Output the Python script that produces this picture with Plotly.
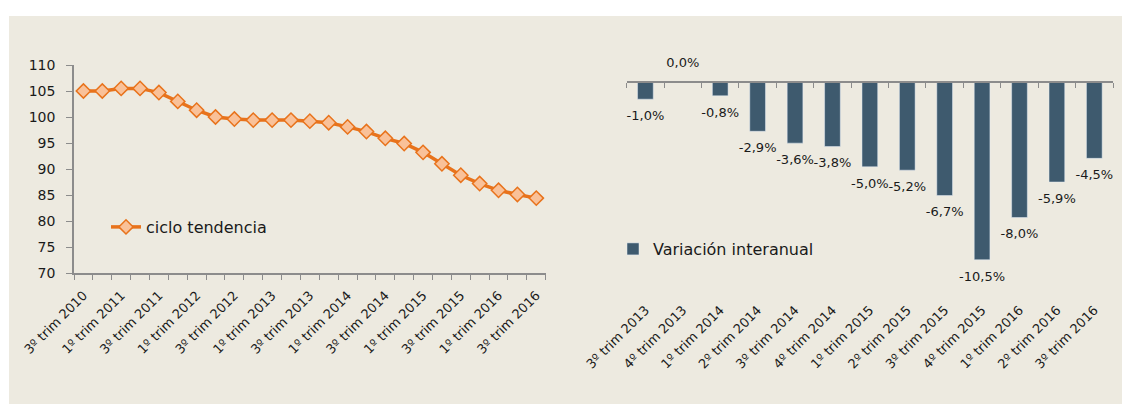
import plotly.graph_objects as go

# ---------------- data ----------------
trend_quarters = [
    "3º trim 2010", "4º trim 2010", "1º trim 2011", "2º trim 2011", "3º trim 2011",
    "4º trim 2011", "1º trim 2012", "2º trim 2012", "3º trim 2012", "4º trim 2012",
    "1º trim 2013", "2º trim 2013", "3º trim 2013", "4º trim 2013", "1º trim 2014",
    "2º trim 2014", "3º trim 2014", "4º trim 2014", "1º trim 2015", "2º trim 2015",
    "3º trim 2015", "4º trim 2015", "1º trim 2016", "2º trim 2016", "3º trim 2016",
]
trend_values = [105.0, 105.0, 105.5, 105.5, 104.7, 103.0, 101.3, 100.0, 99.6, 99.4,
                99.4, 99.4, 99.2, 98.9, 98.1, 97.2, 95.9, 94.9, 93.2, 91.0,
                88.8, 87.2, 85.9, 85.1, 84.4]
trend_name = "ciclo tendencia"

var_quarters = [
    "3º trim 2013", "4º trim 2013", "1º trim 2014", "2º trim 2014", "3º trim 2014",
    "4º trim 2014", "1º trim 2015", "2º trim 2015", "3º trim 2015", "4º trim 2015",
    "1º trim 2016", "2º trim 2016", "3º trim 2016",
]
var_values = [-1.0, 0.05, -0.8, -2.9, -3.6, -3.8, -5.0, -5.2, -6.7, -10.5, -8.0, -5.9, -4.5]
var_labels = ["-1,0%", "0,0%", "-0,8%", "-2,9%", "-3,6%", "-3,8%", "-5,0%", "-5,2%",
              "-6,7%", "-10,5%", "-8,0%", "-5,9%", "-4,5%"]
var_name = "Variación interanual"

left_yticks = [70, 75, 80, 85, 90, 95, 100, 105, 110]

# ---------------- layout helpers ----------------
W, H = 1130, 404
OFF = 8  # page body margin offset
def px_x(p): return (p - OFF) / W
def px_y(p): return 1 - (p - OFF) / H

FONT = "DejaVu Sans"
TXT = "#1a1a1a"
AX = "#8c8c8c"
ORANGE = "#e8731c"
MFILL = "#f9c199"
BAR = "#3e5a6e"
BG = "#edeae0"

trend_idx = list(range(len(trend_quarters)))
var_idx = list(range(len(var_quarters)))

fig = go.Figure()

fig.add_trace(go.Scatter(
    x=trend_idx, y=trend_values, name=trend_name, mode="lines+markers",
    text=trend_quarters, hovertemplate="%{text}: %{y}<extra></extra>",
    line=dict(color=ORANGE, width=3.5),
    marker=dict(symbol="diamond", size=11, color=MFILL, line=dict(color=ORANGE, width=1.5)),
    xaxis="x", yaxis="y", legend="legend",
))

fig.add_trace(go.Bar(
    x=var_idx, y=var_values, name=var_name, marker_color=BAR, width=0.42,
    text=var_quarters, hovertemplate="%{text}: %{y}%<extra></extra>", textposition="none",
    xaxis="x2", yaxis="y2", legend="legend2",
))

# data labels below (or above) each bar end
fig.add_trace(go.Scatter(
    x=var_idx, y=var_values, mode="markers+text", text=var_labels,
    textposition=["bottom center" if v < 0 else "top center" for v in var_values],
    textfont=dict(size=13, color=TXT, family=FONT),
    marker=dict(size=16, opacity=0), cliponaxis=False,
    showlegend=False, hoverinfo="skip", xaxis="x2", yaxis="y2",
))

# invisible helper trace so the zero-line axis is drawn
fig.add_trace(go.Scatter(
    x=var_idx, y=var_values, mode="markers", marker=dict(opacity=0),
    showlegend=False, hoverinfo="skip", xaxis="x3", yaxis="y2",
))

r_top, r_bot, r_zero = 65, 297, 82.3
ppu = 16.9
r_range = [-(r_bot - r_zero) / ppu, (r_zero - r_top) / ppu]

fig.update_layout(
    width=W, height=H,
    margin=dict(l=0, r=0, t=0, b=0, pad=0, autoexpand=False),
    paper_bgcolor="white", plot_bgcolor="rgba(0,0,0,0)",
    font=dict(family=FONT, size=13, color=TXT),
    showlegend=True,
    shapes=[dict(type="rect", xref="paper", yref="paper", layer="below",
                 x0=px_x(9), x1=1, y0=0, y1=px_y(16),
                 fillcolor=BG, line=dict(width=0))],
    xaxis=dict(
        domain=[px_x(74), px_x(545.7)], anchor="y", automargin=False,
        range=[-0.5, len(trend_quarters) - 0.5],
        tickmode="array", tickvals=trend_idx[::2], ticktext=trend_quarters[::2],
        tickangle=-45, ticks="", showgrid=False, zeroline=False,
        showline=True, linecolor=AX, linewidth=1.5,
        minor=dict(tick0=-0.5, dtick=1, ticks="outside", ticklen=5, tickcolor=AX, tickwidth=1, showgrid=False),
        tickfont=dict(size=13), ticklabelstandoff=8,
    ),
    yaxis=dict(
        domain=[px_y(273), px_y(65)], anchor="x", automargin=False,
        range=[70, 110], tickmode="array", tickvals=left_yticks,
        ticks="outside", ticklen=6, tickcolor=AX, tickwidth=1,
        showgrid=False, zeroline=False, showline=True, linecolor=AX, linewidth=1.5,
        tickfont=dict(size=14), ticklabelstandoff=8,
    ),
    xaxis2=dict(
        domain=[px_x(626.7), px_x(1113)], anchor="y2", automargin=False,
        range=[-0.5, len(var_quarters) - 0.5],
        tickmode="array", tickvals=var_idx, ticktext=var_quarters,
        tickangle=-45, ticks="", showgrid=False, zeroline=False, showline=False,
        tickfont=dict(size=13), ticklabelstandoff=2,
    ),
    xaxis3=dict(
        domain=[px_x(626.7), px_x(1113)], overlaying="x2", anchor="free", automargin=False,
        position=px_y(r_zero),
        range=[-0.5, len(var_quarters) - 0.5],
        showticklabels=False, ticks="", showgrid=False, zeroline=False,
        showline=True, linecolor=AX, linewidth=1.5,
        minor=dict(tick0=-0.5, dtick=1, ticks="outside", ticklen=5, tickcolor=AX, tickwidth=1, showgrid=False),
    ),
    yaxis2=dict(
        domain=[px_y(r_bot), px_y(r_top)], anchor="x2", automargin=False,
        range=r_range, visible=False, showgrid=False, zeroline=False,
    ),
    legend=dict(x=px_x(106), y=px_y(227), xanchor="left", yanchor="middle",
                bgcolor="rgba(0,0,0,0)", font=dict(size=16), borderwidth=0),
    legend2=dict(x=px_x(613), y=px_y(249), xanchor="left", yanchor="middle",
                 bgcolor="rgba(0,0,0,0)", font=dict(size=16), borderwidth=0),
    bargap=0.58,
)

fig.write_html("out.html")
